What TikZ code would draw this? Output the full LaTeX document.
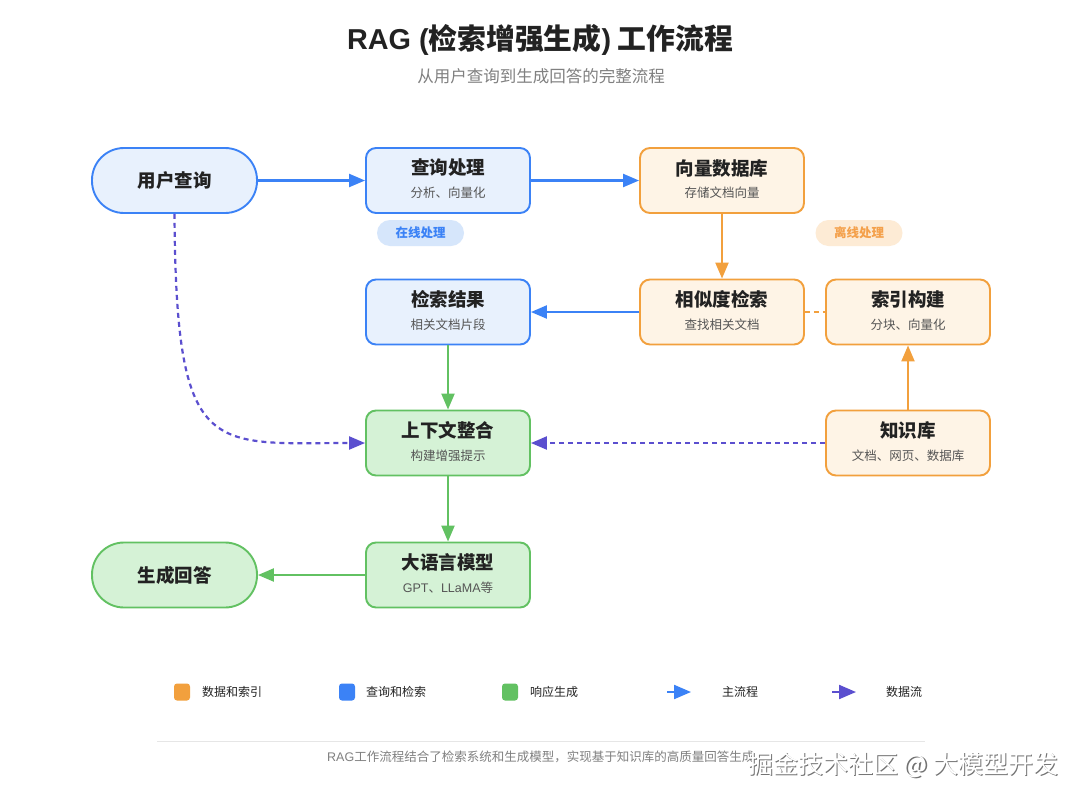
\documentclass[tikz,border=0pt]{standalone}
\usepackage{fontspec}
\setmainfont{Noto Sans CJK SC}
\newfontfamily\latinf{Liberation Sans}
\usetikzlibrary{arrows.meta,shapes.misc}
\definecolor{bstroke}{HTML}{3B82F6}
\definecolor{bfill}{HTML}{E8F1FD}
\definecolor{ostroke}{HTML}{F2A03D}
\definecolor{ofill}{HTML}{FEF4E6}
\definecolor{gstroke}{HTML}{62C162}
\definecolor{gfill}{HTML}{D5F2D6}
\definecolor{purp}{HTML}{5B4FCF}
\definecolor{ttl}{HTML}{222222}
\definecolor{subc}{HTML}{555555}
\definecolor{bpill}{HTML}{D6E6FB}
\definecolor{opill}{HTML}{FDEBD5}
\definecolor{opilltxt}{HTML}{F4A04A}
\definecolor{rulec}{HTML}{E6E6E6}
\definecolor{footc}{HTML}{808080}
\newcommand{\procbox}[6]{%
  \node[boxbase,#4] (#1) at (#2,#3) {};
  \node[titletext] (#1-t) at ([yshift=12.5pt]#1.center) {#5};
  \node[subtext] (#1-s) at ([yshift=-12.5pt]#1.center) {#6};
}
\begin{document}
\begin{tikzpicture}[x=1pt,y=-1pt,
  boxbase/.style={rounded corners=10pt, minimum width=164pt, minimum height=65pt, line width=1.9pt, inner sep=0pt},
  bluebox/.style={draw=bstroke, fill=bfill},
  orangebox/.style={draw=ostroke, fill=ofill},
  greenbox/.style={draw=gstroke, fill=gfill},
  stadium/.style={rounded corners=32pt, minimum width=165pt, minimum height=65pt, line width=1.9pt, inner sep=0pt,
     font=\fontsize{18.5}{20}\selectfont\bfseries, text=ttl},
  titletext/.style={font=\fontsize{18.5}{20}\selectfont\bfseries, text=ttl, inner sep=0pt},
  subtext/.style={font=\fontsize{12.5}{14}\selectfont, text=subc, inner sep=0pt},
  pill/.style={rounded corners=13pt, minimum width=87pt, minimum height=26pt, inner sep=0pt, font=\fontsize{12.5}{14}\selectfont\bfseries},
  flow/.style={line width=2.2pt, -{Triangle[length=16pt,width=13pt]}},
  dflow/.style={line width=2.2pt, purp, dash pattern=on 5pt off 4pt, -{Triangle[length=16pt,width=13pt]}},
  legsq/.style={rounded corners=3pt, minimum width=16pt, minimum height=17pt, inner sep=0pt},
  legtxt/.style={font=\fontsize{12}{14}\selectfont, text=ttl, anchor=west, inner sep=0pt},
]
\useasboundingbox (0,0) rectangle (1080,801);
\fill[white] (0,0) rectangle (1080,801);

% titles
\node[font=\fontsize{28.8}{32}\selectfont\bfseries, text=ttl] (title) at (540,40) {{\latinf RAG (}检索增强生成{\latinf )} 工作流程};
\node[font=\fontsize{16.5}{18}\selectfont, text=footc] (subtitle) at (541,76) {从用户查询到生成回答的完整流程};

% stadium nodes
\node[stadium, draw=bstroke, fill=bfill] (uq) at (174.5,180.5) {用户查询};
\node[stadium, draw=gstroke, fill=gfill] (ans) at (174.5,575) {生成回答};

% boxes
\procbox{qp}{448}{180.5}{bluebox}{查询处理}{分析、向量化}
\procbox{vdb}{722}{180.5}{orangebox}{向量数据库}{存储文档向量}
\procbox{res}{448}{312}{bluebox}{检索结果}{相关文档片段}
\procbox{sim}{722}{312}{orangebox}{相似度检索}{查找相关文档}
\procbox{idx}{908}{312}{orangebox}{索引构建}{分块、向量化}
\procbox{ctx}{448}{443}{greenbox}{上下文整合}{构建增强提示}
\procbox{kb}{908}{443}{orangebox}{知识库}{文档、网页、数据库}
\procbox{llm}{448}{575}{greenbox}{大语言模型}{{\latinf GPT}、{\latinf LLaMA}等}

% pills
\node[pill, fill=bpill, text=bstroke] (online) at (420.5,233) {在线处理};
\node[pill, fill=opill, text=opilltxt] (offline) at (859,233) {离线处理};

% connectors
\draw[flow, bstroke] (uq.east) -- (qp.west);
\draw[flow, bstroke] (qp.east) -- (vdb.west);
\draw[flow, ostroke] (vdb.south) -- (sim.north);
\draw[flow, bstroke] (sim.west) -- (res.east);
\draw[line width=2.2pt, ostroke, dash pattern=on 5pt off 4pt] (sim.east) -- (idx.west);
\draw[flow, ostroke] (kb.north) -- (idx.south);
\draw[flow, gstroke] (res.south) -- (ctx.north);
\draw[dflow] (kb.west) -- (ctx.east);
\draw[dflow] (uq.south) .. controls (176,460) and (210,443) .. (ctx.west);
\draw[flow, gstroke] (ctx.south) -- (llm.north);
\draw[flow, gstroke] (llm.west) -- (ans.east);

% legend
\node[legsq, fill=ostroke] (lg1) at (182,692) {};
\node[legtxt] (lg1t) at (202,692) {数据和索引};
\node[legsq, fill=bstroke] (lg2) at (347,692) {};
\node[legtxt] (lg2t) at (366,692) {查询和检索};
\node[legsq, fill=gstroke] (lg3) at (510,692) {};
\node[legtxt] (lg3t) at (530,692) {响应生成};
\coordinate (la1) at (667,692);
\coordinate (lb1) at (691,692);
\draw[line width=2.2pt, bstroke, -{Triangle[length=17pt,width=14pt]}] (la1) -- (lb1);
\node[legtxt] (lg4t) at (722,692) {主流程};
\coordinate (la2) at (832,692);
\coordinate (lb2) at (856,692);
\draw[line width=2.2pt, purp, -{Triangle[length=17pt,width=14pt]}] (la2) -- (lb2);
\node[legtxt] (lg5t) at (886,692) {数据流};

% footer
\coordinate (r1) at (157,741);
\coordinate (r2) at (925,741);
\draw[rulec, line width=1pt] (r1) -- (r2);
\node[font=\fontsize{12.5}{14}\selectfont, text=footc, anchor=west, inner sep=0pt] (foot) at (327,757) {{\latinf RAG}工作流程结合了检索系统和生成模型，实现基于知识库的高质量回答生成};

% watermark
\node[font=\fontsize{25}{27}\selectfont, text=black!55, anchor=west, inner sep=0pt] (wms) at (749.2,766.2) {掘金技术社区 @ 大模型开发};
\node[font=\fontsize{25}{27}\selectfont, text=white, anchor=west, inner sep=0pt] (wm) at (748,765) {掘金技术社区 @ 大模型开发};
\end{tikzpicture}
\end{document}
